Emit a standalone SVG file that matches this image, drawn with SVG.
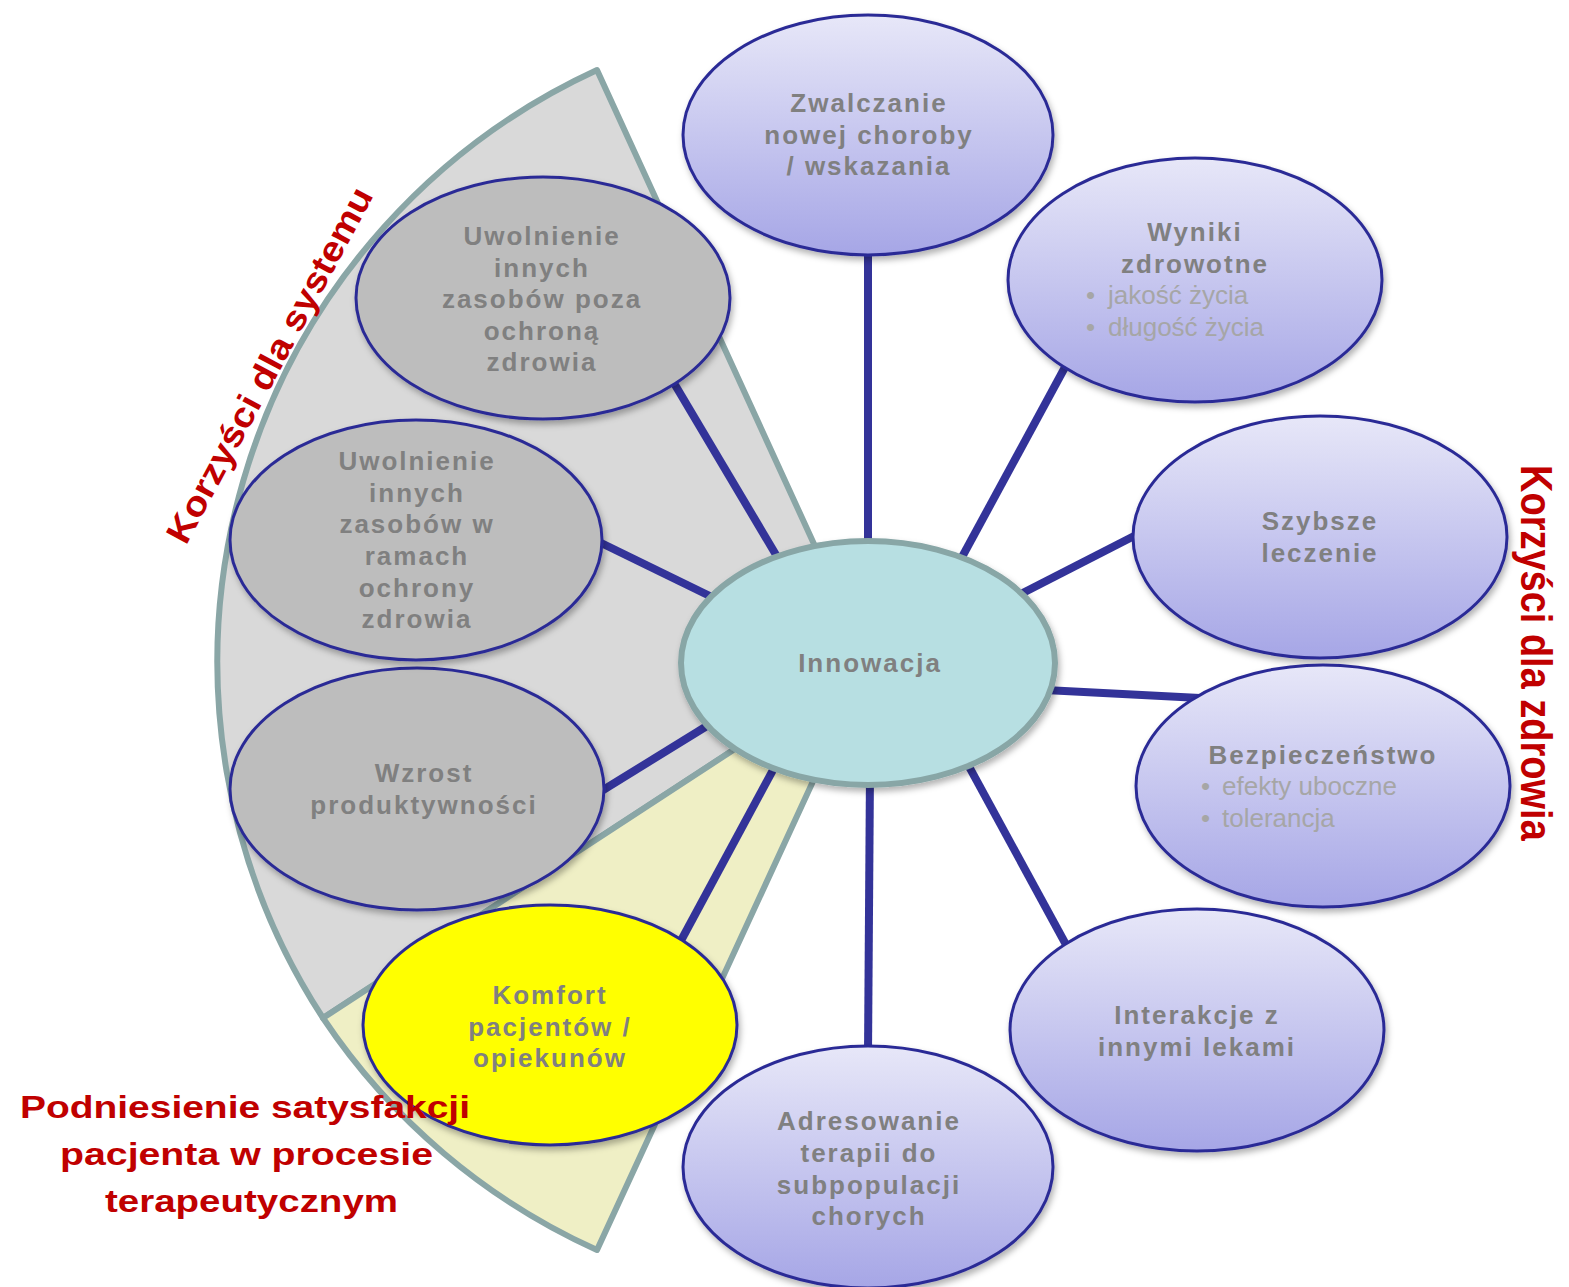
<svg xmlns="http://www.w3.org/2000/svg" width="1569" height="1287" viewBox="0 0 1569 1287">
<defs>
<linearGradient id="purp" x1="0" y1="0" x2="0" y2="1">
<stop offset="0" stop-color="#e7e7f8"/>
<stop offset="1" stop-color="#a6a6e6"/>
</linearGradient>
<filter id="sh" x="-10%" y="-10%" width="125%" height="130%">
<feDropShadow dx="2" dy="4" stdDeviation="3" flood-color="#000" flood-opacity="0.3"/>
</filter>
<style>
.sector{stroke:#8aa6a6;stroke-width:6;stroke-linejoin:round}
.node{stroke:#2c2c96;stroke-width:3;filter:url(#sh)}
.purple{fill:url(#purp)}
.gray{fill:#bdbdbd}
.yellow{fill:#ffff00}
.center{fill:#b7dfe2;stroke:#88a6a6;stroke-width:6;filter:url(#sh)}
.t{font-family:"Liberation Sans",Arial,sans-serif;font-weight:bold;font-size:26px;letter-spacing:2px;fill:#808080;text-anchor:middle}
.b{font-family:"Liberation Sans",Arial,sans-serif;font-size:26px;fill:#a6a6a6}
.red{font-family:"Liberation Sans",Arial,sans-serif;font-weight:bold;fill:#c00000}
.conn line{stroke:#333399;stroke-width:8}
</style>
</defs>
<rect width="1569" height="1287" fill="#ffffff"/>

<g id="sectors">
<path id="sector-system" class="sector" fill="#d9d9d9" d="M868,662 L597,70 A652,652 0 0 0 323,1018 Z"/>
<path id="sector-patient" class="sector" fill="#efefc5" d="M868,662 L323,1018 A652,652 0 0 0 597,1250 Z"/>
</g>

<g id="connectors" class="conn">
<line x1="868" y1="250" x2="868" y2="560"/>
<line x1="1070" y1="358" x2="955" y2="570"/>
<line x1="1140" y1="533" x2="1015" y2="597"/>
<line x1="1045" y1="690" x2="1200" y2="698"/>
<line x1="960" y1="750" x2="1070" y2="952"/>
<line x1="870" y1="770" x2="868" y2="1055"/>
<line x1="780" y1="757" x2="677" y2="948"/>
<line x1="715" y1="721" x2="595" y2="795"/>
<line x1="718" y1="600" x2="595" y2="540"/>
<line x1="785" y1="570" x2="668" y2="373"/>
</g>

<g id="node-zwalczanie">
<ellipse class="node purple" cx="868" cy="135" rx="185" ry="120"/>
<text class="t" x="869" y="112">Zwalczanie</text>
<text class="t" x="869" y="144">nowej choroby</text>
<text class="t" x="869" y="175">/ wskazania</text>
</g>

<g id="node-wyniki">
<ellipse class="node purple" cx="1195" cy="280" rx="187" ry="122"/>
<text class="t" x="1195" y="241">Wyniki</text>
<text class="t" x="1195" y="273">zdrowotne</text>
<text class="b" x="1086" y="304">•</text>
<text class="b" x="1108" y="304">jakość życia</text>
<text class="b" x="1086" y="336">•</text>
<text class="b" x="1108" y="336">długość życia</text>
</g>

<g id="node-szybsze">
<ellipse class="node purple" cx="1320" cy="537" rx="187" ry="121"/>
<text class="t" x="1320" y="530">Szybsze</text>
<text class="t" x="1320" y="562">leczenie</text>
</g>

<g id="node-bezpieczenstwo">
<ellipse class="node purple" cx="1323" cy="786" rx="187" ry="121"/>
<text class="t" x="1323" y="764">Bezpieczeństwo</text>
<text class="b" x="1201" y="795">•</text>
<text class="b" x="1222" y="795">efekty uboczne</text>
<text class="b" x="1201" y="827">•</text>
<text class="b" x="1222" y="827">tolerancja</text>
</g>

<g id="node-interakcje">
<ellipse class="node purple" cx="1197" cy="1030" rx="187" ry="121"/>
<text class="t" x="1197" y="1024">Interakcje z</text>
<text class="t" x="1197" y="1056">innymi lekami</text>
</g>

<g id="node-adresowanie">
<ellipse class="node purple" cx="868" cy="1167" rx="185" ry="121"/>
<text class="t" x="869" y="1130">Adresowanie</text>
<text class="t" x="869" y="1162">terapii do</text>
<text class="t" x="869" y="1194">subpopulacji</text>
<text class="t" x="869" y="1225">chorych</text>
</g>

<g id="node-komfort">
<ellipse class="node yellow" cx="550" cy="1025" rx="187" ry="120"/>
<text class="t" x="550" y="1004">Komfort</text>
<text class="t" x="550" y="1036">pacjentów /</text>
<text class="t" x="550" y="1067">opiekunów</text>
</g>

<g id="node-wzrost">
<ellipse class="node gray" cx="417" cy="789" rx="187" ry="121"/>
<text class="t" x="424" y="782">Wzrost</text>
<text class="t" x="424" y="814">produktywności</text>
</g>

<g id="node-uwolnienie-w">
<ellipse class="node gray" cx="416" cy="540" rx="186" ry="120"/>
<text class="t" x="417" y="470">Uwolnienie</text>
<text class="t" x="417" y="502">innych</text>
<text class="t" x="417" y="533">zasobów w</text>
<text class="t" x="417" y="565">ramach</text>
<text class="t" x="417" y="597">ochrony</text>
<text class="t" x="417" y="628">zdrowia</text>
</g>

<g id="node-uwolnienie-poza">
<ellipse class="node gray" cx="543" cy="298" rx="187" ry="121"/>
<text class="t" x="542" y="245">Uwolnienie</text>
<text class="t" x="542" y="277">innych</text>
<text class="t" x="542" y="308">zasobów poza</text>
<text class="t" x="542" y="340">ochroną</text>
<text class="t" x="542" y="371">zdrowia</text>
</g>

<g id="node-innowacja">
<ellipse class="center" cx="868" cy="663" rx="187" ry="122"/>
<text class="t" x="870" y="672">Innowacja</text>
</g>

<g id="labels">
<text class="red" font-size="35" transform="translate(186,546) rotate(-61.8)" textLength="398" lengthAdjust="spacingAndGlyphs">Korzyści dla systemu</text>
<text class="red" font-size="38" transform="translate(1521,465) scale(1.17,1) rotate(90)">Korzyści dla zdrowia</text>
<text class="red" font-size="32" x="20" y="1118" textLength="450" lengthAdjust="spacingAndGlyphs">Podniesienie satysfakcji</text>
<text class="red" font-size="32" x="60" y="1165" textLength="373" lengthAdjust="spacingAndGlyphs">pacjenta w procesie</text>
<text class="red" font-size="32" x="105" y="1212" textLength="293" lengthAdjust="spacingAndGlyphs">terapeutycznym</text>
</g>
</svg>
